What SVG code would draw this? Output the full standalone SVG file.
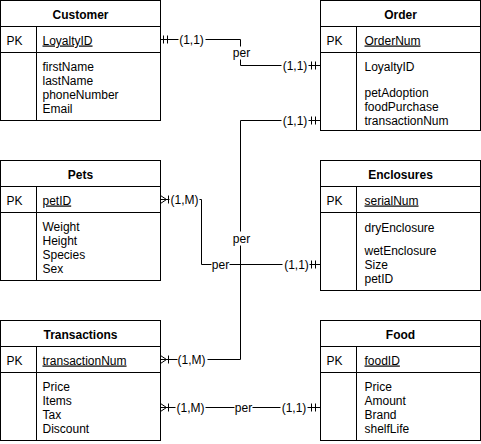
<svg xmlns="http://www.w3.org/2000/svg" width="481" height="444" viewBox="0 0 481 444">
<style>
  .box{fill:#fff;stroke:#000;stroke-width:1}
  .ln{stroke:#000;stroke-width:1;fill:none}
  text{font-family:"Liberation Sans",Arial,Helvetica,sans-serif;font-size:12px;fill:#000}
  .hd{font-weight:bold;text-anchor:middle}
  .pk{text-decoration:underline}
  .lbl{text-anchor:middle}
  .bg{fill:#fff;stroke:none}
</style>
<rect width="481" height="444" fill="#fff"/>
<g transform="translate(0.5,0.5)">
<g id="connectors">
  <path class="ln" d="M160,39 H240 V65 H320"/>
  <path class="ln" d="M320,120 H240 V359 H160"/>
  <path class="ln" d="M160,199 H201 V264 H320"/>
  <path class="ln" d="M160,407 H320"/>
  <!-- mandatory one markers -->
  <path class="ln" d="M163,35 V43 M167,35 V43"/>
  <path class="ln" d="M311,61 V69 M315,61 V69"/>
  <path class="ln" d="M311,116 V124 M315,116 V124"/>
  <path class="ln" d="M311,260 V268 M315,260 V268"/>
  <path class="ln" d="M311,403 V411 M315,403 V411"/>
  <!-- one-to-many crow's feet -->
  <path class="ln" d="M160,195 L166,199 L160,203 M168,195 V203"/>
  <path class="ln" d="M160,355 L166,359 L160,363 M168,355 V363"/>
  <path class="ln" d="M160,403 L166,407 L160,411 M168,403 V411"/>
  <!-- labels -->
  <rect class="bg" x="178" y="32" width="27" height="14"/>
  <text class="lbl" x="191" y="43.5">(1,1)</text>
  <rect class="bg" x="232" y="46" width="18" height="13"/>
  <text class="lbl" x="241" y="56">per</text>
  <rect class="bg" x="281" y="58" width="27" height="14"/>
  <text class="lbl" x="294.5" y="69.5">(1,1)</text>
  <rect class="bg" x="281" y="113" width="27" height="14"/>
  <text class="lbl" x="294.5" y="124.5">(1,1)</text>
  <rect class="bg" x="232" y="231" width="18" height="14"/>
  <text class="lbl" x="241" y="242">per</text>
  <rect class="bg" x="177" y="352" width="30" height="14"/>
  <text class="lbl" x="191" y="363.5">(1,M)</text>
  <rect class="bg" x="169" y="192" width="30" height="14"/>
  <text class="lbl" x="184" y="203.5">(1,M)</text>
  <rect class="bg" x="211" y="258" width="18" height="13"/>
  <text class="lbl" x="220" y="268">per</text>
  <rect class="bg" x="282" y="257" width="27" height="14"/>
  <text class="lbl" x="296" y="268.5">(1,1)</text>
  <rect class="bg" x="175" y="400" width="30" height="14"/>
  <text class="lbl" x="190" y="411.5">(1,M)</text>
  <rect class="bg" x="234" y="401" width="18" height="13"/>
  <text class="lbl" x="243" y="411">per</text>
  <rect class="bg" x="280" y="400" width="27" height="14"/>
  <text class="lbl" x="293.5" y="411.5">(1,1)</text>
</g>
<g id="customer">
  <rect class="box" x="0" y="0" width="160" height="120"/>
  <path class="ln" d="M0,26 H160 M0,52 H160 M36,26 V120"/>
  <text class="hd" x="80" y="18">Customer</text>
  <text x="6" y="44">PK</text>
  <text class="pk" x="42" y="44">LoyaltyID</text>
  <text x="42" y="70.5">firstName</text>
  <text x="42" y="84.5">lastName</text>
  <text x="42" y="98.5">phoneNumber</text>
  <text x="42" y="112.5">Email</text>
</g>
<g id="order">
  <rect class="box" x="320" y="0" width="160" height="130"/>
  <path class="ln" d="M320,26 H480 M320,52 H480 M356,26 V130"/>
  <text class="hd" x="400" y="18">Order</text>
  <text x="326" y="44">PK</text>
  <text class="pk" x="364" y="44">OrderNum</text>
  <text x="364" y="70.5">LoyaltyID</text>
  <text x="364" y="96">petAdoption</text>
  <text x="364" y="110">foodPurchase</text>
  <text x="364" y="124">transactionNum</text>
</g>
<g id="pets">
  <rect class="box" x="0" y="160" width="160" height="120"/>
  <path class="ln" d="M0,186 H160 M0,212 H160 M36,186 V280"/>
  <text class="hd" x="80" y="178">Pets</text>
  <text x="6" y="204">PK</text>
  <text class="pk" x="42" y="204">petID</text>
  <text x="42" y="230.5">Weight</text>
  <text x="42" y="244.5">Height</text>
  <text x="42" y="258.5">Species</text>
  <text x="42" y="272.5">Sex</text>
</g>
<g id="enclosures">
  <rect class="box" x="320" y="160" width="160" height="130"/>
  <path class="ln" d="M320,186 H480 M320,212 H480 M356,186 V290"/>
  <text class="hd" x="400" y="178">Enclosures</text>
  <text x="326" y="204">PK</text>
  <text class="pk" x="364" y="204">serialNum</text>
  <text x="364" y="231">dryEnclosure</text>
  <text x="364" y="254.5">wetEnclosure</text>
  <text x="364" y="268.5">Size</text>
  <text x="364" y="282.5">petID</text>
</g>
<g id="transactions">
  <rect class="box" x="0" y="320" width="160" height="120"/>
  <path class="ln" d="M0,346 H160 M0,372 H160 M36,346 V440"/>
  <text class="hd" x="80" y="338">Transactions</text>
  <text x="6" y="364">PK</text>
  <text class="pk" x="42" y="364">transactionNum</text>
  <text x="42" y="390.5">Price</text>
  <text x="42" y="404.5">Items</text>
  <text x="42" y="418.5">Tax</text>
  <text x="42" y="432.5">Discount</text>
</g>
<g id="food">
  <rect class="box" x="320" y="320" width="160" height="120"/>
  <path class="ln" d="M320,346 H480 M320,372 H480 M356,346 V440"/>
  <text class="hd" x="400" y="338">Food</text>
  <text x="326" y="364">PK</text>
  <text class="pk" x="364" y="364">foodID</text>
  <text x="364" y="390.5">Price</text>
  <text x="364" y="404.5">Amount</text>
  <text x="364" y="418.5">Brand</text>
  <text x="364" y="432.5">shelfLife</text>
</g>
</g>
</svg>
